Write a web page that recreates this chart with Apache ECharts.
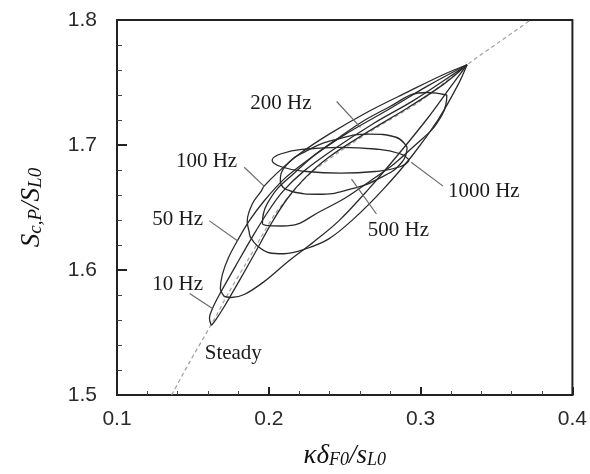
<!DOCTYPE html>
<html>
<head>
<meta charset="utf-8">
<script src="https://cdn.jsdelivr.net/npm/echarts@6/dist/echarts.min.js"></script>
<style>html,body{margin:0;padding:0;background:#fff}#c{width:590px;height:474px}</style>
</head>
<body>
<div id="c"></div>
<script>
// ---- data ----
const xTickLabels = ['0.1', '0.2', '0.3', '0.4'];
const yTickLabels = ['1.5', '1.6', '1.7', '1.8'];

const steady = [[0.1360,1.5000],[0.1478,1.5263],[0.1629,1.5581],[0.1740,1.5828],[0.1852,1.6058],[0.1950,1.6265],[0.2041,1.6448],[0.2146,1.6608],[0.2277,1.6775],[0.2461,1.6942],[0.2723,1.7149],[0.2985,1.7340],[0.3306,1.7642],[0.3509,1.7817],[0.3725,1.8000]];

const loop10Hz = [[0.1622,1.5557],[0.1609,1.5613],[0.1629,1.5692],[0.1675,1.5804],[0.1779,1.6027],[0.1884,1.6249],[0.1989,1.6456],[0.2094,1.6631],[0.2231,1.6791],[0.2428,1.6966],[0.2690,1.7172],[0.2952,1.7355],[0.3181,1.7538],[0.3306,1.7642],[0.3148,1.7483],[0.2919,1.7300],[0.2657,1.7109],[0.2395,1.6902],[0.2231,1.6727],[0.2120,1.6568],[0.2015,1.6369],[0.1917,1.6154],[0.1806,1.5915],[0.1707,1.5708],[0.1648,1.5597],[0.1622,1.5557]];

const loop50Hz = [[0.1707,1.5788],[0.1681,1.5852],[0.1694,1.5963],[0.1734,1.6098],[0.1793,1.6234],[0.1871,1.6393],[0.1969,1.6552],[0.2100,1.6727],[0.2264,1.6886],[0.2493,1.7077],[0.2788,1.7284],[0.3050,1.7475],[0.3306,1.7642],[0.3194,1.7459],[0.3050,1.7220],[0.2854,1.6926],[0.2657,1.6647],[0.2461,1.6393],[0.2297,1.6226],[0.2133,1.6074],[0.1969,1.5907],[0.1838,1.5804],[0.1753,1.5780],[0.1707,1.5788]];

const loop100Hz = [[0.1871,1.6305],[0.1858,1.6393],[0.1891,1.6528],[0.1950,1.6631],[0.1969,1.6671],[0.2068,1.6791],[0.2199,1.6926],[0.2395,1.7085],[0.2657,1.7268],[0.2919,1.7427],[0.3148,1.7562],[0.3306,1.7642],[0.3247,1.7483],[0.3116,1.7204],[0.2952,1.6926],[0.2755,1.6647],[0.2559,1.6409],[0.2395,1.6249],[0.2245,1.6170],[0.2100,1.6130],[0.2002,1.6138],[0.1924,1.6194],[0.1878,1.6265],[0.1871,1.6305]];

const loop200Hz = [[0.3173,1.7400],[0.3142,1.7243],[0.2956,1.6990],[0.2666,1.6710],[0.2350,1.6476],[0.2090,1.6352],[0.1958,1.6372],[0.1989,1.6529],[0.2174,1.6782],[0.2465,1.7062],[0.2781,1.7296],[0.3041,1.7420],[0.3173,1.7400]];

const loop500Hz = [[0.2911,1.6982],[0.2878,1.6864],[0.2740,1.6741],[0.2537,1.6647],[0.2322,1.6606],[0.2153,1.6628],[0.2076,1.6710],[0.2109,1.6829],[0.2246,1.6951],[0.2450,1.7046],[0.2664,1.7087],[0.2833,1.7064],[0.2911,1.6982]];

const loop1000Hz = [[0.2926,1.6878],[0.2865,1.6826],[0.2700,1.6788],[0.2474,1.6775],[0.2248,1.6788],[0.2082,1.6826],[0.2022,1.6878],[0.2082,1.6930],[0.2248,1.6968],[0.2474,1.6981],[0.2700,1.6968],[0.2865,1.6930],[0.2926,1.6878]];

// annotation text anchors [x, y, text]
const labelPoints = [[0.1400,1.5883,'10 Hz'],[0.1400,1.6401,'50 Hz'],[0.1590,1.6870,'100 Hz'],[0.2080,1.7332,'200 Hz'],[0.2854,1.6313,'500 Hz'],[0.3416,1.6631,'1000 Hz'],[0.1766,1.5334,'Steady']];
// leader lines [[x0,y0],[x1,y1]]
const leaders = [
  [[0.1478,1.5812],[0.1629,1.5692]],
  [[0.1609,1.6393],[0.1793,1.6234]],
  [[0.1838,1.6822],[0.1969,1.6671]],
  [[0.2447,1.7348],[0.2604,1.7141]],
  [[0.2709,1.6448],[0.2545,1.6727]],
  [[0.3148,1.6671],[0.2938,1.6862]]
];

// ---- chart ----
const chart = echarts.init(document.getElementById('c'), null, {renderer: 'canvas'});
const loopStyle = {color: '#2a2a2a', width: 1.3};
const openLoops = [loop10Hz, loop50Hz, loop100Hz];
const ellipses = [loop200Hz, loop500Hz, loop1000Hz];

const series = [];
series.push({type: 'line', data: steady, symbol: 'none', smooth: 0.3, silent: true,
  lineStyle: {color: '#a0a0a0', width: 1.2, type: [4, 3]}, z: 2});
openLoops.forEach(l => series.push({type: 'line', data: l, symbol: 'none', smooth: 0.35, silent: true,
  lineStyle: loopStyle, z: 3}));
ellipses.forEach(l => series.push({type: 'line', data: l, symbol: 'none', smooth: 0.5, silent: true,
  lineStyle: loopStyle, z: 3}));
leaders.forEach(l => series.push({type: 'line', data: l, symbol: 'none', silent: true,
  lineStyle: {color: '#6a6a6a', width: 1.2}, z: 4}));
series.push({type: 'scatter', data: labelPoints, symbolSize: 0, silent: true, z: 5,
  itemStyle: {color: 'rgba(0,0,0,0)'},
  label: {show: true, position: 'inside', formatter: p => p.data[2], opacity: 1,
    fontFamily: 'Liberation Serif', fontSize: 21, color: '#1a1a1a'}});

const axisLabelStyle = {fontFamily: 'Liberation Sans', fontSize: 21, color: '#2a2a2a'};

chart.setOption({
  animation: false,
  backgroundColor: '#ffffff',
  grid: {left: 117, right: 15, top: 20, bottom: 77, show: true, borderColor: '#222', borderWidth: 2, backgroundColor: 'transparent'},
  xAxis: {
    type: 'value', min: 0.1, max: 0.4, interval: 0.1,
    axisLine: {show: true, lineStyle: {color: '#222', width: 2}},
    axisTick: {show: true, inside: true, length: 8, lineStyle: {color: '#222', width: 2}},
    minorTick: {show: true, splitNumber: 5, length: 4, lineStyle: {color: '#444', width: 1}},
    splitLine: {show: false},
    axisLabel: Object.assign({margin: 14, formatter: v => xTickLabels[Math.round((v - 0.1) * 10)] || ''}, axisLabelStyle),
    name: '{i|κδ}{s|F0}{i|/s}{s|L0}', nameLocation: 'middle', nameGap: 44,
    nameTextStyle: {rich: {
      i: {fontFamily: 'Liberation Serif', fontStyle: 'italic', fontSize: 27, color: '#111', verticalAlign: 'bottom', lineHeight: 30},
      s: {fontFamily: 'Liberation Serif', fontStyle: 'italic', fontSize: 18, color: '#111', verticalAlign: 'bottom', lineHeight: 18}
    }}
  },
  yAxis: {
    type: 'value', min: 1.5, max: 1.8, interval: 0.1,
    axisLine: {show: true, lineStyle: {color: '#222', width: 2}},
    axisTick: {show: true, inside: true, length: 10, lineStyle: {color: '#222', width: 2}},
    minorTick: {show: true, splitNumber: 5, length: 5, lineStyle: {color: '#444', width: 1}},
    splitLine: {show: false},
    axisLabel: Object.assign({margin: 20, formatter: v => yTickLabels[Math.round((v - 1.5) * 10)] || ''}, axisLabelStyle),
    name: '{i|S}{s|c,P}{i|/S}{s|L0}', nameLocation: 'middle', nameGap: 72,
    nameTextStyle: {rich: {
      i: {fontFamily: 'Liberation Serif', fontStyle: 'italic', fontSize: 27, color: '#111', verticalAlign: 'bottom', lineHeight: 30},
      s: {fontFamily: 'Liberation Serif', fontStyle: 'italic', fontSize: 19, color: '#111', verticalAlign: 'bottom', lineHeight: 18}
    }}
  },
  series: series
});
</script>
</body>
</html>
